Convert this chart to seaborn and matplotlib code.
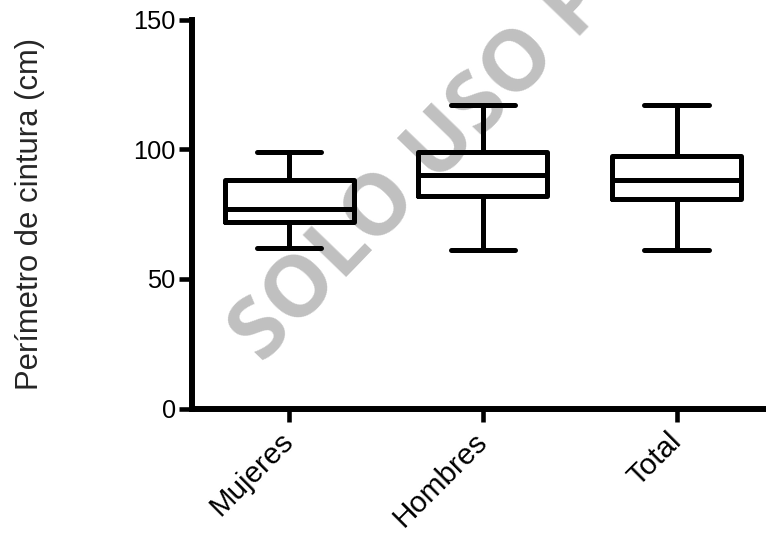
import numpy as np
import pandas as pd
import matplotlib
matplotlib.use("Agg")
import matplotlib.pyplot as plt
import seaborn as sns

# Five-number summaries: min, Q1, median, Q3, max
categories = ["Mujeres", "Hombres", "Total"]
mujeres_values = [62, 72, 77, 88, 99]
hombres_values = [61, 82, 90, 99, 117]
total_values = [61, 81, 88, 97.5, 117]
y_ticks = [0, 50, 100, 150]
y_label = "Perímetro de cintura (cm)"
watermark = "SOLO USO PROFESIONAL"

df = pd.DataFrame({
    "grupo": (["Mujeres"] * len(mujeres_values) + ["Hombres"] * len(hombres_values)
              + ["Total"] * len(total_values)),
    "valor": mujeres_values + hombres_values + total_values,
})

sns.set_theme(style="ticks")
plt.rcParams["font.family"] = ["Liberation Sans", "DejaVu Sans"]

W, H = 766, 533
fig = plt.figure(figsize=(W / 100, H / 100), dpi=100)
left_px, right_px = 192.3, 192.3 + 3 * 193.7
top_px, bottom_px = 19.7, 408.5
ax = fig.add_axes([left_px / W, (H - bottom_px) / H,
                   (right_px - left_px) / W, (bottom_px - top_px) / H])

lw = 3.6
sns.boxplot(data=df, x="grupo", y="valor", order=categories, ax=ax,
            whis=(0, 100), width=0.665, fill=False, color="black",
            linecolor="black", linewidth=lw,
            capprops={"solid_capstyle": "round"},
            boxprops={"solid_joinstyle": "round"})

ax.set_xlim(-0.5, 2.5)
ax.set_ylim(0, 150)
ax.set_yticks(y_ticks)
ax.set_xlabel("")
ax.set_ylabel(y_label, fontsize=22.3)
ax.yaxis.set_label_coords(-0.2536, 0.5)

for side in ["top", "right"]:
    ax.spines[side].set_visible(False)
for side in ["left", "bottom"]:
    ax.spines[side].set_linewidth(4.3)
    ax.spines[side].set_color("black")
    ax.spines[side].set_capstyle("projecting")

ax.tick_params(axis="both", length=9.5, width=3.3, color="black",
               labelcolor="black")
ax.tick_params(axis="y", labelsize=18.3, pad=2.5)
ax.tick_params(axis="x", labelsize=21.3, pad=11)
for lab in ax.get_xticklabels():
    lab.set_rotation(45)
    lab.set_ha("right")
    lab.set_va("center")
    lab.set_rotation_mode("anchor")

ax.text(261.9 / W, 1 - 364.8 / H, watermark, transform=fig.transFigure,
        rotation=46, rotation_mode="anchor", ha="left", va="baseline",
        fontsize=61, fontweight="bold", family=["Open Sans", "DejaVu Sans"],
        color="#c0c0c0", zorder=0.5, clip_on=False)

fig.savefig("out.png", dpi=100)
